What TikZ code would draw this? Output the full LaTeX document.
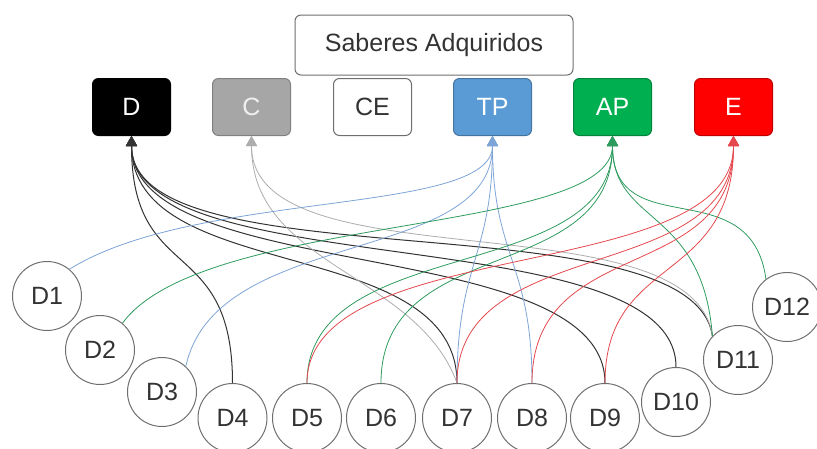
\documentclass[tikz,border=0pt]{standalone}
\usepackage{fontspec}
\setmainfont{Liberation Sans}
\usetikzlibrary{arrows.meta}

\definecolor{inkgray}{HTML}{333333}
\definecolor{rimgray}{HTML}{6E6E6E}
\definecolor{cfill}{HTML}{A6A6A6}
\definecolor{tpfill}{HTML}{5B9BD5}
\definecolor{apfill}{HTML}{00B050}
\definecolor{efill}{HTML}{FF0000}
\definecolor{cline}{HTML}{ADADAD}
\definecolor{tpline}{HTML}{7DA4D6}
\definecolor{apline}{HTML}{2E9B5E}
\definecolor{eline}{HTML}{E5484D}

\tikzset{
  saber/.style={draw=rimgray, rounded corners=6pt, line width=1pt,
    minimum width=78pt, minimum height=57pt, inner sep=0pt,
    font=\fontsize{25}{30}\selectfont},
  disc/.style={circle, draw=rimgray, line width=1pt, minimum size=69pt,
    inner sep=0pt, text=inkgray, font=\fontsize{25}{30}\selectfont},
  link/.style={-{Triangle[width=11pt,length=10pt]}, line width=0.8pt},
}

\begin{document}
\begin{tikzpicture}[x=1pt, y=-1pt]
    \useasboundingbox (0,0) rectangle (817,448);

    % title and the six kinds of knowledge
    \node[saber, minimum width=278pt, minimum height=60pt, text=inkgray] (sab) at (434,45) {Saberes Adquiridos};
    \node[saber, fill=black, draw=black, text=white] (D) at (131.5,107) {D};
    \node[saber, fill=cfill, draw=gray, text=white!88!gray] (C) at (251.5,107) {C};
    \node[saber, fill=white, text=inkgray] (CE) at (372.5,107) {CE};
    \node[saber, fill=tpfill, draw=tpfill!75!black, text=white] (TP) at (492.5,107) {TP};
    \node[saber, fill=apfill, draw=apfill!75!black, text=white] (AP) at (612.5,107) {AP};
    \node[saber, fill=efill, draw=efill!75!black, text=white] (E) at (733.5,107) {E};

    % the twelve circles
    \node[disc] (D1) at (47,296) {D1};
    \node[disc] (D2) at (100,350) {D2};
    \node[disc] (D3) at (162,392) {D3};
    \node[disc] (D4) at (232.5,418) {D4};
    \node[disc] (D5) at (307,418) {D5};
    \node[disc] (D6) at (381,418) {D6};
    \node[disc] (D7) at (457,418) {D7};
    \node[disc] (D8) at (532,418) {D8};
    \node[disc] (D9) at (605,418) {D9};
    \node[disc] (D10) at (676,402) {D10};
    \node[disc] (D11) at (738,360) {D11};
    \node[disc] (D12) at (787,307) {D12};

    % to D
    \draw[link, inkgray, line width=1pt] (D4.north) .. controls +(0,-150) and +(0,150) .. (D.south);
    \draw[link, inkgray, line width=1pt] (D7.north) .. controls +(0,-150) and +(0,150) .. (D.south);
    \draw[link, inkgray, line width=1pt] (D9.north) .. controls +(0,-150) and +(0,150) .. (D.south);
    \draw[link, inkgray, line width=1pt] (D10.north) .. controls +(0,-150) and +(0,150) .. (D.south);
    \draw[link, inkgray, line width=1pt] (D11.137) .. controls +(-20,-140) and +(0,150) .. (D.south);

    % to C
    \draw[link, cline] (D7.north) .. controls +(-40,-110) and +(0,130) .. (C.south);
    \draw[link, cline] (D11.137) .. controls +(-20,-140) and +(0,150) .. (C.south);

    % to TP
    \draw[link, tpline] (D1.50) .. controls +(128,-80) and +(0,80) .. (TP.south);
    \draw[link, tpline] (D3.47) .. controls +(30,-140) and +(0,130) .. (TP.south);
    \draw[link, tpline] (D7.north) .. controls +(0,-120) and +(0,120) .. (TP.south);
    \draw[link, tpline] (D8.north) .. controls +(0,-120) and +(0,120) .. (TP.south);

    % to AP
    \draw[link, apline] (D2.50) .. controls +(80,-110) and +(0,100) .. (AP.south);
    \draw[link, apline] (D5.north) .. controls +(0,-150) and +(0,150) .. (AP.south);
    \draw[link, apline] (D6.north) .. controls +(0,-150) and +(0,150) .. (AP.south);
    \draw[link, apline] (D11.137) .. controls +(-10,-130) and +(0,90) .. (AP.south);
    \draw[link, apline] (D12.127) .. controls +(-15,-110) and +(0,110) .. (AP.south);

    % to E
    \draw[link, eline] (D5.north) .. controls +(0,-150) and +(0,150) .. (E.south);
    \draw[link, eline] (D7.north) .. controls +(0,-150) and +(0,150) .. (E.south);
    \draw[link, eline] (D8.north) .. controls +(0,-150) and +(0,150) .. (E.south);
    \draw[link, eline] (D9.north) .. controls +(0,-130) and +(0,150) .. (E.south);

\end{tikzpicture}
\end{document}
